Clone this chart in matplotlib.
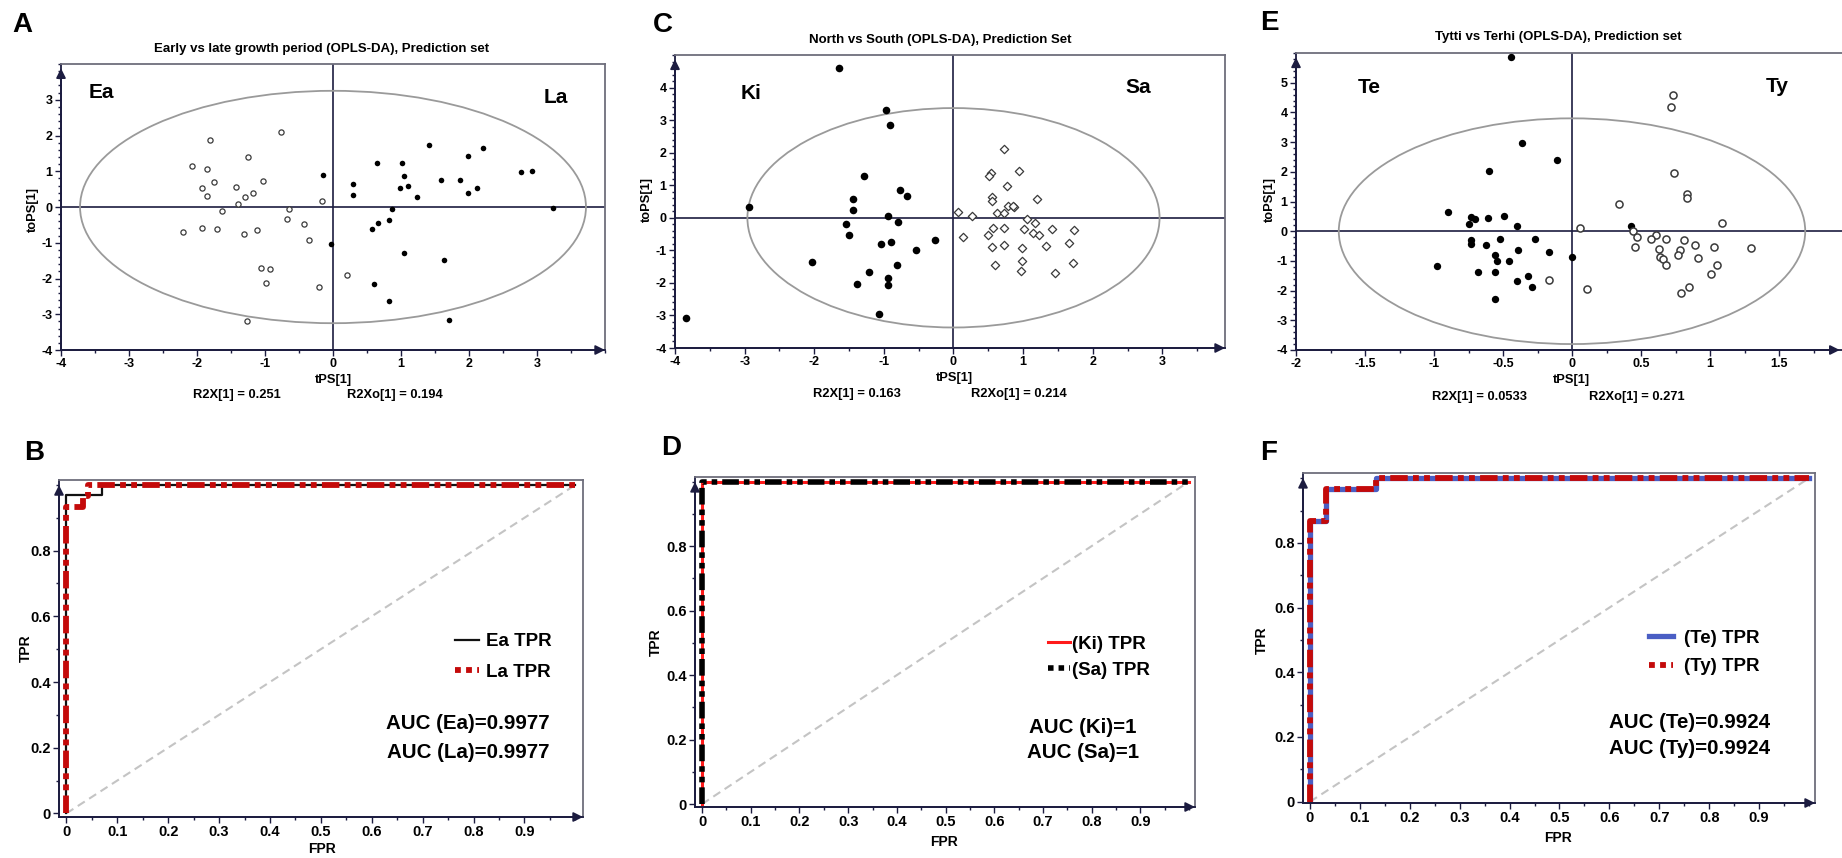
import numpy as np
import matplotlib
matplotlib.use('Agg')
import matplotlib.pyplot as plt
from matplotlib.patches import Ellipse
from matplotlib.ticker import FixedLocator, MultipleLocator

plt.rcParams['font.family'] = ['Liberation Sans', 'DejaVu Sans']
plt.rcParams['font.weight'] = 'bold'

# ---------------- DATA ----------------
# Panel A: Early (Ea, open) vs Late (La, filled)
A_ea_x = [-2.07, -1.81, -1.86, -1.93, -1.75, -1.86, -1.25, -0.77, -1.03, -1.43, -1.30, -1.18, -1.40, -1.63, -0.65,
          -0.16, -2.21, -1.93, -1.70, -1.31, -1.12, -0.67, -0.42, -0.35, -1.06, -0.92, -0.99, -0.20, 0.20, -1.26]
A_ea_y = [1.16, 1.88, 1.07, 0.54, 0.71, 0.31, 1.41, 2.09, 0.74, 0.56, 0.28, 0.39, 0.08, -0.11, -0.06,
          0.18, -0.70, -0.59, -0.62, -0.75, -0.64, -0.34, -0.48, -0.92, -1.71, -1.73, -2.13, -2.24, -1.90, -3.20]
A_la_x = [-0.14, 0.29, 0.30, 0.64, 1.01, 1.04, 0.98, 1.10, 1.23, 1.41, 1.59, 1.87, 1.99, 1.99, 2.12,
          2.20, 2.76, 2.93, 3.23, 0.87, 0.83, 0.66, 0.58, -0.03, 1.04, 1.63, 0.61, 0.83, 1.71]
A_la_y = [0.90, 0.65, 0.34, 1.24, 1.24, 0.88, 0.54, 0.60, 0.28, 1.74, 0.76, 0.76, 1.44, 0.40, 0.54,
          1.66, 0.99, 1.02, -0.03, -0.06, -0.36, -0.44, -0.62, -1.03, -1.29, -1.48, -2.15, -2.64, -3.17]
A_ellipse = (3.72, 3.25)

# Panel C: Ki (filled) vs Sa (open diamonds)
C_ki_x = [-1.65, -0.97, -0.91, -1.29, -0.77, -0.67, -1.45, -1.44, -2.93, -0.94, -0.79, -1.54, -1.50, -0.26, -0.90,
          -1.04, -0.54, -2.03, -0.81, -1.22, -1.39, -0.94, -0.94, -1.07, -3.84]
C_ki_y = [4.59, 3.31, 2.85, 1.29, 0.84, 0.68, 0.58, 0.23, 0.34, 0.06, -0.13, -0.20, -0.54, -0.67, -0.74,
          -0.80, -0.99, -1.37, -1.46, -1.68, -2.03, -1.86, -2.08, -2.96, -3.07]
C_sa_x = [0.73, 0.94, 0.54, 0.51, 0.77, 0.56, 0.55, 1.20, 0.78, 0.87, 0.85, 0.63, 0.72, 0.06, 0.26, 1.06, 1.17, 0.57,
          0.73, 1.01, 1.41, 1.73, 1.14, 1.23, 0.49, 0.14, 0.73, 0.56, 0.99, 1.33, 1.66, 0.59, 0.98, 1.72, 0.97, 1.46]
C_sa_y = [2.10, 1.45, 1.38, 1.28, 0.97, 0.63, 0.52, 0.57, 0.36, 0.33, 0.36, 0.16, 0.14, 0.19, 0.04, -0.05, -0.16, -0.30,
          -0.30, -0.33, -0.36, -0.38, -0.46, -0.54, -0.54, -0.58, -0.84, -0.90, -0.93, -0.86, -0.78, -1.44, -1.34, -1.40,
          -1.62, -1.70]
C_ellipse = (2.96, 3.37)

# Panel E: Te (filled) vs Ty (open)
E_te_x = [-0.44, -0.36, -0.11, -0.60, -0.90, -0.73, -0.70, -0.61, -0.49, -0.75, -0.40, 0.43, -0.27, -0.52, -0.73,
          -0.73, -0.62, -0.39, -0.17, 0.00, -0.56, -0.54, -0.46, -0.98, -0.68, -0.56, -0.32, -0.40, -0.29, -0.56]
E_te_y = [5.87, 2.97, 2.41, 2.04, 0.65, 0.48, 0.42, 0.44, 0.51, 0.24, 0.19, 0.19, -0.26, -0.26, -0.30,
          -0.44, -0.47, -0.62, -0.69, -0.86, -0.80, -0.99, -0.99, -1.17, -1.38, -1.38, -1.52, -1.68, -1.88, -2.27]
E_ty_x = [0.73, 0.72, 0.74, 0.83, 0.83, 0.34, 1.09, 0.06, 0.44, 0.47, 0.61, 0.57, 0.68, 0.81, 0.46, 0.89,
          1.03, 1.30, 0.63, 0.78, 0.64, 0.66, 0.77, 0.91, 0.68, 1.05, 1.01, -0.17, 0.11, 0.85, 0.79]
E_ty_y = [4.59, 4.18, 1.97, 1.25, 1.11, 0.91, 0.27, 0.12, -0.01, -0.20, -0.12, -0.26, -0.26, -0.29, -0.52, -0.48,
          -0.52, -0.55, -0.61, -0.62, -0.86, -0.93, -0.80, -0.89, -1.15, -1.15, -1.43, -1.64, -1.96, -1.87, -2.09]
E_ellipse = (1.69, 3.80)

# ROC curves
B_ea_fpr = [0, 0, 0.069, 0.069, 1.0]
B_ea_tpr = [0, 0.969, 0.969, 1.0, 1.0]
B_la_fpr = [0, 0, 0.032, 0.032, 0.043, 0.043, 1.0]
B_la_tpr = [0, 0.933, 0.933, 0.967, 0.967, 1.0, 1.0]
D_ki_fpr = [0, 0, 1.0]
D_ki_tpr = [0, 1.0, 1.0]
D_sa_fpr = [0, 0, 1.0]
D_sa_tpr = [0, 1.0, 1.0]
F_te_fpr = [0, 0, 0.033, 0.033, 0.133, 0.133, 1.0]
F_te_tpr = [0, 0.867, 0.867, 0.967, 0.967, 1.0, 1.0]
F_ty_fpr = [0, 0, 0.033, 0.033, 0.133, 0.133, 1.0]
F_ty_tpr = [0, 0.867, 0.867, 0.967, 0.967, 1.0, 1.0]
chance = [0, 1]

roc_xticks = [0, 0.1, 0.2, 0.3, 0.4, 0.5, 0.6, 0.7, 0.8, 0.9]
roc_xlabels = ['0', '0.1', '0.2', '0.3', '0.4', '0.5', '0.6', '0.7', '0.8', '0.9']
roc_yticks = [0, 0.2, 0.4, 0.6, 0.8]
roc_ylabels = ['0', '0.2', '0.4', '0.6', '0.8']

# ---------------- FIGURE ----------------
W, H = 1842, 858
fig = plt.figure(figsize=(W / 100, H / 100), dpi=100)

navy = '#1c1c40'
frame_c = '#6e6e7c'
red = '#c40a0a'
blue = '#4a5ec4'


def box(l, t, r, b):
    return [l / W, 1 - b / H, (r - l) / W, (b - t) / H]


def ftext(x, y, s, **kw):
    fig.text(x / W, 1 - y / H, s, **kw)


def style(ax, labelsize, arrow_x=1.0):
    for s in ax.spines.values():
        s.set_color(frame_c)
        s.set_linewidth(1.3)
    ax.spines['left'].set_color(navy)
    ax.spines['bottom'].set_color(navy)
    ax.tick_params(which='both', direction='out', color=navy, width=1, pad=2)
    ax.tick_params(which='major', length=4, labelsize=labelsize)
    ax.tick_params(which='minor', length=2.5)
    ax.annotate('', xy=(0, 0.985), xytext=(0, 0.0), xycoords='axes fraction',
                arrowprops=dict(arrowstyle='-|>', color=navy, lw=1.3, mutation_scale=14,
                                shrinkA=0, shrinkB=0), annotation_clip=False)
    ax.annotate('', xy=(arrow_x, 0), xytext=(0, 0), xycoords='axes fraction',
                arrowprops=dict(arrowstyle='-|>', color=navy, lw=1.3, mutation_scale=14,
                                shrinkA=0, shrinkB=0), annotation_clip=False)


def scatter_panel(rect, xlim, ylim, xt, yt, xminor, yminor, ell, g1, g2, lab1, lab2, lab1pos, lab2pos,
                  arrow_x=1.0):
    ax = fig.add_axes(box(*rect))
    ax.set_xlim(*xlim)
    ax.set_ylim(*ylim)
    ax.xaxis.set_major_locator(FixedLocator(xt))
    ax.yaxis.set_major_locator(FixedLocator(yt))
    ax.set_xticklabels([('%g' % v) for v in xt])
    ax.set_yticklabels([('%g' % v) for v in yt])
    ax.xaxis.set_minor_locator(MultipleLocator(xminor))
    ax.yaxis.set_minor_locator(MultipleLocator(yminor))
    style(ax, 9, arrow_x)
    ax.axhline(0, color=navy, lw=1.2, zorder=1)
    ax.axvline(0, color=navy, lw=1.2, zorder=1)
    ax.add_patch(Ellipse((0, 0), 2 * ell[0], 2 * ell[1], fill=False, ec='#9a9a9a', lw=1.3, zorder=1))
    for (x, y, kw) in (g1, g2):
        ax.scatter(x, y, zorder=3, **kw)
    ax.text(lab1pos[0], lab1pos[1], lab1, fontsize=15, ha='center', va='center')
    ax.text(lab2pos[0], lab2pos[1], lab2, fontsize=15, ha='center', va='center')
    return ax


open_small = dict(s=14, facecolors='white', edgecolors='#3a3a3a', linewidths=0.9)
filled_small = dict(s=16, color='black', linewidths=0)
TS = 9.5   # title size
LS = 9.3   # R2X label size

# ----- Panel A -----
scatter_panel((61, 64, 605, 350), (-4, 4), (-4, 4), [-4, -3, -2, -1, 0, 1, 2, 3], [-4, -3, -2, -1, 0, 1, 2, 3],
              0.5, 0.2, A_ellipse,
              (A_ea_x, A_ea_y, open_small), (A_la_x, A_la_y, filled_small),
              'Ea', 'La', (-3.4, 3.2), (3.27, 3.05))
ftext(22, 25, 'A', fontsize=20, ha='center', va='center')
ftext(322, 49, 'Early vs late growth period (OPLS-DA), Prediction set', fontsize=TS, ha='center', va='center')
ftext(333, 380, 'tPS[1]', fontsize=9.3, ha='center', va='center')
ftext(33, 210, 'toPS[1]', fontsize=9.3, ha='center', va='center', rotation=90)
ftext(237, 395, 'R2X[1] = 0.251', fontsize=LS, ha='center', va='center')
ftext(395, 395, 'R2Xo[1] = 0.194', fontsize=LS, ha='center', va='center')

# ----- Panel C -----
scatter_panel((675, 55, 1225, 348), (-4, 3.9), (-4, 5), [-4, -3, -2, -1, 0, 1, 2, 3],
              [-4, -3, -2, -1, 0, 1, 2, 3, 4], 0.5, 0.2, C_ellipse,
              (C_ki_x, C_ki_y, dict(s=30, color='black', linewidths=0)),
              (C_sa_x, C_sa_y, dict(s=18, marker='D', facecolors='white', edgecolors='#3a3a3a', linewidths=0.9)),
              'Ki', 'Sa', (-2.91, 3.82), (2.65, 4.0))
ftext(663, 25, 'C', fontsize=20, ha='center', va='center')
ftext(940, 40, 'North vs South (OPLS-DA), Prediction Set', fontsize=TS, ha='center', va='center')
ftext(954, 378, 'tPS[1]', fontsize=9.3, ha='center', va='center')
ftext(647, 200, 'toPS[1]', fontsize=9.3, ha='center', va='center', rotation=90)
ftext(857, 394, 'R2X[1] = 0.163', fontsize=LS, ha='center', va='center')
ftext(1019, 394, 'R2Xo[1] = 0.214', fontsize=LS, ha='center', va='center')

# ----- Panel E -----
axE = scatter_panel((1296, 53, 1848, 350), (-2, 2.0), (-4, 6), [-2, -1.5, -1, -0.5, 0, 0.5, 1, 1.5],
                    [-4, -3, -2, -1, 0, 1, 2, 3, 4, 5], 0.25, 0.2, E_ellipse,
                    (E_te_x, E_te_y, dict(s=28, color='black', linewidths=0)),
                    (E_ty_x, E_ty_y, dict(s=26, facecolors='white', edgecolors='#3a3a3a', linewidths=1.1)),
                    'Te', 'Ty', (-1.47, 4.83), (1.49, 4.86), arrow_x=0.985)
ftext(1269, 23, 'E', fontsize=20, ha='center', va='center')
ftext(1558, 37, 'Tytti vs Terhi (OPLS-DA), Prediction set', fontsize=TS, ha='center', va='center')
ftext(1571, 380, 'tPS[1]', fontsize=9.3, ha='center', va='center')
ftext(1270, 200, 'toPS[1]', fontsize=9.3, ha='center', va='center', rotation=90)
ftext(1479, 397, 'R2X[1] = 0.0533', fontsize=LS, ha='center', va='center')
ftext(1637, 397, 'R2Xo[1] = 0.271', fontsize=LS, ha='center', va='center')


# ----- ROC panels -----
def roc_panel(rect, xlim, ylim):
    ax = fig.add_axes(box(*rect))
    ax.set_xlim(*xlim)
    ax.set_ylim(*ylim)
    ax.xaxis.set_major_locator(FixedLocator(roc_xticks))
    ax.set_xticklabels(roc_xlabels)
    ax.yaxis.set_major_locator(FixedLocator(roc_yticks))
    ax.set_yticklabels(roc_ylabels)
    ax.xaxis.set_minor_locator(MultipleLocator(0.05))
    ax.yaxis.set_minor_locator(MultipleLocator(0.1))
    style(ax, 10.5)
    ax.plot(chance, chance, color='#c4c4c4', lw=1.5, dashes=(4, 2.5), zorder=1)
    return ax


pattern = (3, 0.9, 1.0, 0.9, 1.0, 0.9)
legend_pattern = (1.0, 0.9)

# B
axB = roc_panel((59, 480, 583, 817), (-0.0145, 1.015), (-0.011, 1.015))
axB.plot(B_ea_fpr, B_ea_tpr, color='#111111', lw=1.6, label='Ea TPR', zorder=2)
lB, = axB.plot(B_la_fpr, B_la_tpr, color=red, lw=4.2, label='La TPR', zorder=3)
lB.set_dashes(pattern)
legB = axB.legend(loc='upper left', bbox_to_anchor=(0.755, 0.545), frameon=False, fontsize=13.5,
                  handlelength=1.3, handletextpad=0.35, labelspacing=0.7, borderpad=0, borderaxespad=0)
legB.get_lines()[1].set_dashes(legend_pattern)
axB.text(0.937, 0.278, 'AUC (Ea)=0.9977', transform=axB.transAxes, fontsize=14.8, ha='right', va='center')
axB.text(0.937, 0.192, 'AUC (La)=0.9977', transform=axB.transAxes, fontsize=14.8, ha='right', va='center')
ftext(34, 453, 'B', fontsize=20, ha='center', va='center')
ftext(322, 849, 'FPR', fontsize=10, ha='center', va='center')
ftext(26, 648, 'TPR', fontsize=10, ha='center', va='center', rotation=90)

# D
axD = roc_panel((695, 477, 1195, 807), (-0.0144, 1.012), (-0.009, 1.014))
axD.plot(D_ki_fpr, D_ki_tpr, color='#ff1a1a', lw=2.2, label='(Ki) TPR', zorder=2)
lD, = axD.plot(D_sa_fpr, D_sa_tpr, color='black', lw=4.0, label='(Sa) TPR', zorder=3)
lD.set_dashes(pattern)
legD = axD.legend(loc='upper left', bbox_to_anchor=(0.705, 0.52), frameon=False, fontsize=13.5,
                  handlelength=1.2, handletextpad=0.1, labelspacing=0.5, borderpad=0, borderaxespad=0)
legD.get_lines()[1].set_dashes(legend_pattern)
axD.text(0.776, 0.242, 'AUC (Ki)=1', transform=axD.transAxes, fontsize=14.8, ha='center', va='center')
axD.text(0.776, 0.164, 'AUC (Sa)=1', transform=axD.transAxes, fontsize=14.8, ha='center', va='center')
ftext(671, 448, 'D', fontsize=20, ha='center', va='center')
ftext(944, 842, 'FPR', fontsize=10, ha='center', va='center')
ftext(656, 642, 'TPR', fontsize=10, ha='center', va='center', rotation=90)

# F
axF = roc_panel((1303, 473, 1815, 803), (-0.014, 1.012), (-0.004, 1.016))
axF.plot(F_te_fpr, F_te_tpr, color=blue, lw=3.8, label='(Te) TPR', zorder=2)
lF, = axF.plot(F_ty_fpr, F_ty_tpr, color=red, lw=4.2, label='(Ty) TPR', zorder=3)
lF.set_dashes(pattern)
legF = axF.legend(loc='upper left', bbox_to_anchor=(0.675, 0.525), frameon=False, fontsize=13.5,
                  handlelength=1.3, handletextpad=0.6, labelspacing=0.6, borderpad=0, borderaxespad=0)
legF.get_lines()[1].set_dashes(legend_pattern)
axF.text(0.912, 0.245, 'AUC (Te)=0.9924', transform=axF.transAxes, fontsize=14.8, ha='right', va='center')
axF.text(0.912, 0.165, 'AUC (Ty)=0.9924', transform=axF.transAxes, fontsize=14.8, ha='right', va='center')
ftext(1269, 453, 'F', fontsize=20, ha='center', va='center')
ftext(1558, 838, 'FPR', fontsize=10, ha='center', va='center')
ftext(1262, 640, 'TPR', fontsize=10, ha='center', va='center', rotation=90)

fig.savefig('out.png', dpi=100)
